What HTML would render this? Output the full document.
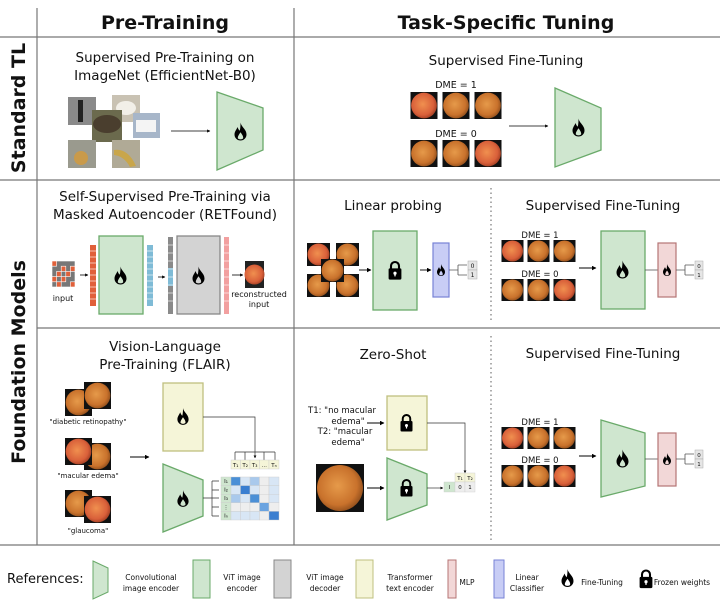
<!DOCTYPE html>
<html><head><meta charset="utf-8"><style>
html,body{margin:0;padding:0;background:#fff}
svg{display:block}
text{font-family:"DejaVu Sans","Liberation Sans",sans-serif;fill:#111}
</style></head><body>
<svg width="720" height="607" viewBox="0 0 720 607" xmlns="http://www.w3.org/2000/svg">
<defs>
<radialGradient id="fg" cx="0.45" cy="0.45" r="0.6">
<stop offset="0" stop-color="#e69a4a"/><stop offset="0.7" stop-color="#c9722c"/><stop offset="1" stop-color="#8a4a1a"/>
</radialGradient>
<radialGradient id="fr" cx="0.45" cy="0.45" r="0.6">
<stop offset="0" stop-color="#f0904f"/><stop offset="0.7" stop-color="#d9603a"/><stop offset="1" stop-color="#9a3a20"/>
</radialGradient>
<symbol id="fun" viewBox="0 0 22 22"><rect width="22" height="22" fill="#111"/><circle cx="11" cy="11" r="10.5" fill="url(#fg)"/></symbol>
<symbol id="funr" viewBox="0 0 22 22"><rect width="22" height="22" fill="#111"/><circle cx="11" cy="11" r="10.5" fill="url(#fr)"/></symbol>
<symbol id="flame" viewBox="0 0 20 24"><path fill-rule="evenodd" fill="#000" d="M10 0 C11 6 18 9 18 16 C18 21 14 24 10 24 C6 24 2 21 2 16 C2 12 5 9 6 6 C7 9 8 10 9 11 C10 7 10 3 10 0 Z M10 13 C12 16 14 18 13.5 21 C12.5 23 7.5 23 6.5 21 C6 19 8 16 10 13 Z"/></symbol>
<symbol id="lock" viewBox="0 0 20 24"><path d="M5 11 V7 A5 5 0 0 1 15 7 V11" stroke="#000" stroke-width="2.6" fill="none"/><rect x="2" y="10" width="16" height="14" rx="1.5" fill="#000"/><circle cx="10" cy="16" r="2" fill="#fff"/><rect x="9.2" y="16" width="1.6" height="4" fill="#fff"/></symbol>
<marker id="ar" viewBox="0 0 10 10" refX="9" refY="5" markerWidth="5" markerHeight="5" orient="auto"><path d="M0 0 L10 5 L0 10 z" fill="#000"/></marker>
<marker id="as" viewBox="0 0 10 10" refX="9" refY="5" markerWidth="4" markerHeight="4" orient="auto"><path d="M0 0 L10 5 L0 10 z" fill="#000"/></marker>
</defs>

<!-- grid -->
<g stroke="#777" stroke-width="1.2">
<line x1="0" y1="37" x2="720" y2="37"/>
<line x1="0" y1="180" x2="720" y2="180"/>
<line x1="37" y1="328" x2="720" y2="328"/>
<line x1="0" y1="545" x2="720" y2="545"/>
<line x1="37" y1="8" x2="37" y2="545"/>
<line x1="294" y1="8" x2="294" y2="545"/>
</g>
<g stroke="#777" stroke-width="1.2" stroke-dasharray="1.5,3">
<line x1="491" y1="188" x2="491" y2="322"/>
<line x1="491" y1="336" x2="491" y2="540"/>
</g>

<text x="165" y="29" font-size="19" font-weight="bold" text-anchor="middle">Pre-Training</text>
<text x="506" y="29" font-size="19" font-weight="bold" text-anchor="middle">Task-Specific Tuning</text>
<text transform="translate(25,108) rotate(-90)" font-size="19" font-weight="bold" text-anchor="middle">Standard TL</text>
<text transform="translate(25,362) rotate(-90)" font-size="19" font-weight="bold" text-anchor="middle">Foundation Models</text>

<!-- Row 1 left -->
<text x="165" y="62" font-size="13.5" text-anchor="middle">Supervised Pre-Training on</text>
<text x="165" y="80" font-size="13.5" text-anchor="middle">ImageNet (EfficientNet-B0)</text>
<rect x="68" y="97" width="28" height="28" fill="#8a8a8a"/><rect x="78" y="100" width="5" height="22" fill="#222"/>
<rect x="112" y="95" width="28" height="27" fill="#c9c2b3"/><ellipse cx="126" cy="108" rx="10" ry="7" fill="#f2efe8"/>
<rect x="133" y="113" width="27" height="25" fill="#a7b6c9"/><rect x="136" y="120" width="20" height="12" fill="#f4f4f4"/>
<rect x="92" y="110" width="30" height="32" fill="#6b6a4d"/><ellipse cx="107" cy="124" rx="14" ry="9" fill="#4a3e2e"/>
<rect x="68" y="140" width="28" height="28" fill="#9a9a8e"/><circle cx="81" cy="158" r="7" fill="#c99a4a"/>
<rect x="112" y="140" width="28" height="28" fill="#b0aa96"/><path d="M114 150 Q128 148 136 166 L130 167 Q124 156 114 155 Z" fill="#c9a64a"/>
<line x1="171" y1="131" x2="210" y2="131" stroke="#000" stroke-width="0.8" marker-end="url(#as)"/>
<polygon points="217,92 263,108 263,150 217,170" fill="#cfe6cf" stroke="#6aaa6a" stroke-width="1.3"/>
<use href="#flame" x="233" y="122" width="15" height="19"/>

<!-- Row 1 right -->
<text x="506" y="65" font-size="13.5" text-anchor="middle">Supervised Fine-Tuning</text>
<text x="456" y="88" font-size="9.5" text-anchor="middle">DME = 1</text>
<use href="#funr" x="410" y="92" width="28" height="27"/><use href="#fun" x="442" y="92" width="28" height="27"/><use href="#fun" x="474" y="92" width="28" height="27"/>
<text x="456" y="137" font-size="9.5" text-anchor="middle">DME = 0</text>
<use href="#fun" x="410" y="140" width="28" height="27"/><use href="#fun" x="442" y="140" width="28" height="27"/><use href="#funr" x="474" y="140" width="28" height="27"/>
<line x1="509" y1="126" x2="548" y2="126" stroke="#000" stroke-width="0.8" marker-end="url(#as)"/>
<polygon points="555,88 601,108 601,150 555,167" fill="#cfe6cf" stroke="#6aaa6a" stroke-width="1.3"/>
<use href="#flame" x="571" y="118" width="15" height="19"/>

<!-- Row 2 left -->
<text x="165" y="201" font-size="13.5" text-anchor="middle">Self-Supervised Pre-Training via</text>
<text x="165" y="219" font-size="13.5" text-anchor="middle">Masked Autoencoder (RETFound)</text>
<g stroke="#fff" stroke-width="0.6">
<rect x="52" y="261" width="23" height="26" fill="#777"/>
<rect x="52" y="261" width="4.6" height="5.2" fill="#e0603a"/><rect x="61.2" y="266.2" width="4.6" height="5.2" fill="#e0603a"/><rect x="70.4" y="266.2" width="4.6" height="5.2" fill="#e0603a"/>
<rect x="56.6" y="271.4" width="4.6" height="5.2" fill="#e0603a"/><rect x="65.8" y="271.4" width="4.6" height="5.2" fill="#e0603a"/><rect x="52" y="276.6" width="4.6" height="5.2" fill="#e0603a"/>
<rect x="61.2" y="276.6" width="4.6" height="5.2" fill="#e0603a"/><rect x="70.4" y="281.8" width="4.6" height="5.2" fill="#e0603a"/><rect x="56.6" y="281.8" width="4.6" height="5.2" fill="#e0603a"/>
</g>
<text x="63" y="301" font-size="8" text-anchor="middle">input</text>
<line x1="80" y1="275" x2="88" y2="275" stroke="#000" stroke-width="0.8" marker-end="url(#as)"/>
<rect x="90" y="245" width="6" height="61" fill="#e0603a"/>
<g stroke="#fff" stroke-width="0.6"><line x1="90" y1="251" x2="96" y2="251"/><line x1="90" y1="257" x2="96" y2="257"/><line x1="90" y1="263" x2="96" y2="263"/><line x1="90" y1="269" x2="96" y2="269"/><line x1="90" y1="275" x2="96" y2="275"/><line x1="90" y1="281" x2="96" y2="281"/><line x1="90" y1="287" x2="96" y2="287"/><line x1="90" y1="293" x2="96" y2="293"/><line x1="90" y1="299" x2="96" y2="299"/></g>
<rect x="99" y="236" width="44" height="78" fill="#cfe6cf" stroke="#6aaa6a" stroke-width="1.3"/>
<use href="#flame" x="113" y="266" width="15" height="19"/>
<rect x="147" y="245" width="6" height="61" fill="#7fbbd6"/>
<g stroke="#fff" stroke-width="0.6"><line x1="147" y1="251" x2="153" y2="251"/><line x1="147" y1="257" x2="153" y2="257"/><line x1="147" y1="263" x2="153" y2="263"/><line x1="147" y1="269" x2="153" y2="269"/><line x1="147" y1="275" x2="153" y2="275"/><line x1="147" y1="281" x2="153" y2="281"/><line x1="147" y1="287" x2="153" y2="287"/><line x1="147" y1="293" x2="153" y2="293"/><line x1="147" y1="299" x2="153" y2="299"/></g>
<line x1="158" y1="277" x2="165" y2="277" stroke="#000" stroke-width="0.8" marker-end="url(#as)"/>
<rect x="168" y="237" width="5" height="77" fill="#8a8a8a"/>
<rect x="168" y="268" width="5" height="18" fill="#7fbbd6"/>
<g stroke="#fff" stroke-width="0.6"><line x1="168" y1="245" x2="173" y2="245"/><line x1="168" y1="253" x2="173" y2="253"/><line x1="168" y1="261" x2="173" y2="261"/><line x1="168" y1="269" x2="173" y2="269"/><line x1="168" y1="277" x2="173" y2="277"/><line x1="168" y1="285" x2="173" y2="285"/><line x1="168" y1="293" x2="173" y2="293"/><line x1="168" y1="301" x2="173" y2="301"/></g>
<rect x="177" y="236" width="43" height="78" fill="#d3d3d3" stroke="#888" stroke-width="1.3"/>
<use href="#flame" x="191" y="266" width="15" height="19"/>
<rect x="224" y="237" width="5" height="77" fill="#f2a0a0"/>
<g stroke="#fff" stroke-width="0.6"><line x1="224" y1="245" x2="229" y2="245"/><line x1="224" y1="253" x2="229" y2="253"/><line x1="224" y1="261" x2="229" y2="261"/><line x1="224" y1="269" x2="229" y2="269"/><line x1="224" y1="277" x2="229" y2="277"/><line x1="224" y1="285" x2="229" y2="285"/><line x1="224" y1="293" x2="229" y2="293"/><line x1="224" y1="301" x2="229" y2="301"/></g>
<line x1="232" y1="275" x2="243" y2="275" stroke="#000" stroke-width="0.8" marker-end="url(#as)"/>
<rect x="245" y="261" width="19" height="27" fill="#222"/><circle cx="254.5" cy="274.5" r="10" fill="url(#fr)"/>
<text x="259" y="297" font-size="8" text-anchor="middle">reconstructed</text>
<text x="259" y="307" font-size="8" text-anchor="middle">input</text>

<!-- Row 2 right: linear probing -->
<text x="393" y="210" font-size="13.5" text-anchor="middle">Linear probing</text>
<use href="#funr" x="307" y="243" width="23" height="23"/><use href="#fun" x="336" y="243" width="23" height="23"/>
<use href="#fun" x="307" y="274" width="23" height="23"/><use href="#fun" x="336" y="274" width="23" height="23"/>
<use href="#fun" x="321" y="259" width="23" height="23"/>
<line x1="359" y1="270" x2="371" y2="270" stroke="#000" stroke-width="0.9" marker-end="url(#ar)"/>
<rect x="373" y="231" width="44" height="79" fill="#cfe6cf" stroke="#6aaa6a" stroke-width="1.3"/>
<use href="#lock" x="387" y="260" width="16" height="20"/>
<line x1="420" y1="270" x2="431" y2="270" stroke="#000" stroke-width="0.9" marker-end="url(#ar)"/>
<rect x="433" y="243" width="16" height="54" fill="#c8cdf5" stroke="#7782d6" stroke-width="1.2"/>
<use href="#flame" x="436" y="264" width="10" height="12"/>
<path d="M449 270 H458 M458 265 V275 M458 265 H467 M458 275 H467" stroke="#555" stroke-width="0.8" fill="none"/>
<rect x="468" y="261" width="9" height="9" fill="#e6e6e6" stroke="#aaa" stroke-width="0.5"/><rect x="468" y="270" width="9" height="9" fill="#e6e6e6" stroke="#aaa" stroke-width="0.5"/>
<text x="472.5" y="268" font-size="6" text-anchor="middle">0</text><text x="472.5" y="277" font-size="6" text-anchor="middle">1</text>

<!-- Row 2 right: fine-tuning -->
<text x="603" y="210" font-size="13.5" text-anchor="middle">Supervised Fine-Tuning</text>
<text x="540" y="238" font-size="8.5" text-anchor="middle">DME = 1</text>
<use href="#funr" x="501" y="240" width="23" height="22"/><use href="#fun" x="527" y="240" width="23" height="22"/><use href="#fun" x="553" y="240" width="23" height="22"/>
<text x="540" y="277" font-size="8.5" text-anchor="middle">DME = 0</text>
<use href="#fun" x="501" y="279" width="23" height="22"/><use href="#fun" x="527" y="279" width="23" height="22"/><use href="#funr" x="553" y="279" width="23" height="22"/>
<line x1="579" y1="268" x2="596" y2="268" stroke="#000" stroke-width="0.9" marker-end="url(#ar)"/>
<rect x="601" y="231" width="44" height="78" fill="#cfe6cf" stroke="#6aaa6a" stroke-width="1.3"/>
<use href="#flame" x="615" y="260" width="15" height="19"/>
<line x1="645" y1="270" x2="658" y2="270" stroke="#555" stroke-width="0.8"/>
<rect x="658" y="243" width="18" height="54" fill="#f2d7d7" stroke="#b57474" stroke-width="1.2"/>
<use href="#flame" x="662" y="264" width="10" height="12"/>
<path d="M676 270 H685 M685 265 V275 M685 265 H694 M685 275 H694" stroke="#555" stroke-width="0.8" fill="none"/>
<rect x="695" y="261" width="8" height="9" fill="#e6e6e6" stroke="#aaa" stroke-width="0.5"/><rect x="695" y="270" width="8" height="9" fill="#e6e6e6" stroke="#aaa" stroke-width="0.5"/>
<text x="699" y="268" font-size="5.5" text-anchor="middle">0</text><text x="699" y="277" font-size="5.5" text-anchor="middle">1</text>

<!-- Row 3 left -->
<text x="165" y="351" font-size="13.5" text-anchor="middle">Vision-Language</text>
<text x="165" y="369" font-size="13.5" text-anchor="middle">Pre-Training (FLAIR)</text>
<use href="#fun" x="65" y="389" width="27" height="27"/><use href="#fun" x="84" y="382" width="27" height="27"/>
<text x="88" y="424" font-size="7" text-anchor="middle">"diabetic retinopathy"</text>
<use href="#fun" x="84" y="443" width="27" height="27"/><use href="#funr" x="65" y="438" width="27" height="27"/>
<text x="88" y="478" font-size="7" text-anchor="middle">"macular edema"</text>
<use href="#fun" x="65" y="490" width="27" height="27"/><use href="#funr" x="84" y="496" width="27" height="27"/>
<text x="88" y="533" font-size="7" text-anchor="middle">"glaucoma"</text>
<line x1="130" y1="457" x2="149" y2="457" stroke="#000" stroke-width="0.9" marker-end="url(#ar)"/>
<rect x="163" y="383" width="40" height="68" fill="#f5f5d8" stroke="#bfc07f" stroke-width="1.3"/>
<use href="#flame" x="176" y="408" width="14" height="17"/>
<path d="M203 417 H255 V458" stroke="#333" stroke-width="0.7" fill="none" marker-end="url(#as)"/>
<path d="M235 452 H275 M235 452 V460 M245 452 V460 M264 452 V460 M275 452 V460" stroke="#333" stroke-width="0.7" fill="none"/>
<polygon points="163,464 203,480 203,516 163,532" fill="#cfe6cf" stroke="#6aaa6a" stroke-width="1.3"/>
<use href="#flame" x="176" y="490" width="14" height="17"/>
<path d="M203 498 H212 M212 481 V516 M212 481 H219 M212 490 H219 M212 498 H219 M212 507 H219 M212 516 H219" stroke="#333" stroke-width="0.7" fill="none"/>
<g font-size="5.5" text-anchor="middle">
<g fill="#f5f5d8" stroke="#ccc" stroke-width="0.4">
<rect x="231" y="460" width="9.5" height="9"/><rect x="240.5" y="460" width="9.5" height="9"/><rect x="250" y="460" width="9.5" height="9"/><rect x="259.5" y="460" width="9.5" height="9"/><rect x="269" y="460" width="10" height="9"/>
</g>
<text x="235.7" y="467">T₁</text><text x="245.2" y="467">T₂</text><text x="254.7" y="467">T₃</text><text x="264.2" y="467">…</text><text x="274" y="467">Tₙ</text>
<g fill="#cfe6cf" stroke="#ccc" stroke-width="0.4">
<rect x="221" y="477" width="10" height="8.6"/><rect x="221" y="485.6" width="10" height="8.6"/><rect x="221" y="494.2" width="10" height="8.6"/><rect x="221" y="502.8" width="10" height="8.6"/><rect x="221" y="511.4" width="10" height="8.6"/>
</g>
<text x="226" y="483">I₁</text><text x="226" y="491.6">I₂</text><text x="226" y="500.2">I₃</text><text x="226" y="508.8">⋮</text><text x="226" y="517.4">Iₙ</text>
<g stroke="#ccc" stroke-width="0.4">
<rect x="231" y="477" width="9.5" height="8.6" fill="#4a8fd6"/><rect x="240.5" y="477" width="9.5" height="8.6" fill="#d8e6f5"/><rect x="250" y="477" width="9.5" height="8.6" fill="#a9c9ec"/><rect x="259.5" y="477" width="9.5" height="8.6" fill="#eee"/><rect x="269" y="477" width="10" height="8.6" fill="#d8e6f5"/>
<rect x="231" y="485.6" width="9.5" height="8.6" fill="#d8e6f5"/><rect x="240.5" y="485.6" width="9.5" height="8.6" fill="#3a7ed0"/><rect x="250" y="485.6" width="9.5" height="8.6" fill="#d8e6f5"/><rect x="259.5" y="485.6" width="9.5" height="8.6" fill="#eee"/><rect x="269" y="485.6" width="10" height="8.6" fill="#d8e6f5"/>
<rect x="231" y="494.2" width="9.5" height="8.6" fill="#a9c9ec"/><rect x="240.5" y="494.2" width="9.5" height="8.6" fill="#d8e6f5"/><rect x="250" y="494.2" width="9.5" height="8.6" fill="#4a8fd6"/><rect x="259.5" y="494.2" width="9.5" height="8.6" fill="#eee"/><rect x="269" y="494.2" width="10" height="8.6" fill="#d8e6f5"/>
<rect x="231" y="502.8" width="9.5" height="8.6" fill="#eee"/><rect x="240.5" y="502.8" width="9.5" height="8.6" fill="#eee"/><rect x="250" y="502.8" width="9.5" height="8.6" fill="#eee"/><rect x="259.5" y="502.8" width="9.5" height="8.6" fill="#6aa3e0"/><rect x="269" y="502.8" width="10" height="8.6" fill="#eee"/>
<rect x="231" y="511.4" width="9.5" height="8.6" fill="#d8e6f5"/><rect x="240.5" y="511.4" width="9.5" height="8.6" fill="#d8e6f5"/><rect x="250" y="511.4" width="9.5" height="8.6" fill="#d8e6f5"/><rect x="259.5" y="511.4" width="9.5" height="8.6" fill="#eee"/><rect x="269" y="511.4" width="10" height="8.6" fill="#3a7ed0"/>
</g>
</g>

<!-- Row 3 right: zero-shot -->
<text x="393" y="359" font-size="13.5" text-anchor="middle">Zero-Shot</text>
<g font-size="8.5" text-anchor="middle">
<text x="342" y="413">T1: "no macular</text><text x="348" y="424">edema"</text>
<text x="345" y="434">T2: "macular</text><text x="348" y="445">edema"</text>
</g>
<line x1="367" y1="423" x2="384" y2="423" stroke="#000" stroke-width="0.9" marker-end="url(#ar)"/>
<rect x="387" y="396" width="40" height="54" fill="#f5f5d8" stroke="#bfc07f" stroke-width="1.3"/>
<use href="#lock" x="399" y="413" width="15" height="19"/>
<path d="M427 423 H465 V473" stroke="#333" stroke-width="0.7" fill="none" marker-end="url(#as)"/>
<rect x="316" y="464" width="48" height="48" fill="#111"/><circle cx="340" cy="488" r="23" fill="url(#fg)"/>
<line x1="367" y1="488" x2="384" y2="488" stroke="#000" stroke-width="0.9" marker-end="url(#ar)"/>
<polygon points="387,458 427,474 427,505 387,520" fill="#cfe6cf" stroke="#6aaa6a" stroke-width="1.3"/>
<use href="#lock" x="399" y="478" width="15" height="19"/>
<line x1="427" y1="488" x2="443" y2="488" stroke="#333" stroke-width="0.7" marker-end="url(#as)"/>
<rect x="455" y="473" width="10" height="9" fill="#f5f5d8" stroke="#ccc" stroke-width="0.4"/><rect x="465" y="473" width="10" height="9" fill="#f5f5d8" stroke="#ccc" stroke-width="0.4"/>
<rect x="444" y="482" width="11" height="10" fill="#cfe6cf" stroke="#ccc" stroke-width="0.4"/><rect x="455" y="482" width="10" height="10" fill="#eee" stroke="#ccc" stroke-width="0.4"/><rect x="465" y="482" width="10" height="10" fill="#eee" stroke="#ccc" stroke-width="0.4"/>
<g font-size="5.5" text-anchor="middle"><text x="460" y="480">T₁</text><text x="470" y="480">T₂</text><text x="449.5" y="489">I</text><text x="460" y="489">0</text><text x="470" y="489">1</text></g>

<!-- Row 3 right: fine-tuning -->
<text x="603" y="358" font-size="13.5" text-anchor="middle">Supervised Fine-Tuning</text>
<text x="540" y="425" font-size="8.5" text-anchor="middle">DME = 1</text>
<use href="#funr" x="501" y="427" width="23" height="22"/><use href="#fun" x="527" y="427" width="23" height="22"/><use href="#fun" x="553" y="427" width="23" height="22"/>
<text x="540" y="463" font-size="8.5" text-anchor="middle">DME = 0</text>
<use href="#fun" x="501" y="465" width="23" height="22"/><use href="#fun" x="527" y="465" width="23" height="22"/><use href="#funr" x="553" y="465" width="23" height="22"/>
<line x1="579" y1="456" x2="596" y2="456" stroke="#000" stroke-width="0.9" marker-end="url(#ar)"/>
<polygon points="601,420 645,433 645,486 601,497" fill="#cfe6cf" stroke="#6aaa6a" stroke-width="1.3"/>
<use href="#flame" x="615" y="449" width="15" height="19"/>
<line x1="645" y1="459" x2="658" y2="459" stroke="#555" stroke-width="0.8"/>
<rect x="658" y="433" width="18" height="53" fill="#f2d7d7" stroke="#b57474" stroke-width="1.2"/>
<use href="#flame" x="662" y="453" width="10" height="12"/>
<path d="M676 459 H685 M685 454 V464 M685 454 H694 M685 464 H694" stroke="#555" stroke-width="0.8" fill="none"/>
<rect x="695" y="450" width="8" height="9" fill="#e6e6e6" stroke="#aaa" stroke-width="0.5"/><rect x="695" y="459" width="8" height="9" fill="#e6e6e6" stroke="#aaa" stroke-width="0.5"/>
<text x="699" y="457" font-size="5.5" text-anchor="middle">0</text><text x="699" y="466" font-size="5.5" text-anchor="middle">1</text>

<!-- Legend -->
<text x="7" y="583" font-size="13">References:</text>
<polygon points="93,561 108,568 108,592 93,599" fill="#cfe6cf" stroke="#6aaa6a" stroke-width="1"/>
<g font-size="7.5" text-anchor="middle">
<text x="151" y="580">Convolutional</text><text x="151" y="591">image encoder</text>
<text x="242" y="580">ViT image</text><text x="242" y="591">encoder</text>
<text x="325" y="580">ViT image</text><text x="325" y="591">decoder</text>
<text x="410" y="580">Transformer</text><text x="410" y="591">text encoder</text>
<text x="467" y="585">MLP</text>
<text x="527" y="580">Linear</text><text x="527" y="591">Classifier</text>
<text x="602" y="585">Fine-Tuning</text>
<text x="682" y="585">Frozen weights</text>
</g>
<rect x="193" y="560" width="17" height="38" fill="#cfe6cf" stroke="#6aaa6a" stroke-width="1"/>
<rect x="274" y="560" width="17" height="38" fill="#d3d3d3" stroke="#888" stroke-width="1"/>
<rect x="356" y="560" width="17" height="38" fill="#f5f5d8" stroke="#bfc07f" stroke-width="1"/>
<rect x="448" y="560" width="8" height="38" fill="#f2d7d7" stroke="#b57474" stroke-width="1"/>
<rect x="494" y="560" width="10" height="38" fill="#c8cdf5" stroke="#7782d6" stroke-width="1"/>
<use href="#flame" x="560" y="568" width="15" height="20"/>
<use href="#lock" x="638" y="568" width="16" height="21"/>
</svg>
</body></html>
